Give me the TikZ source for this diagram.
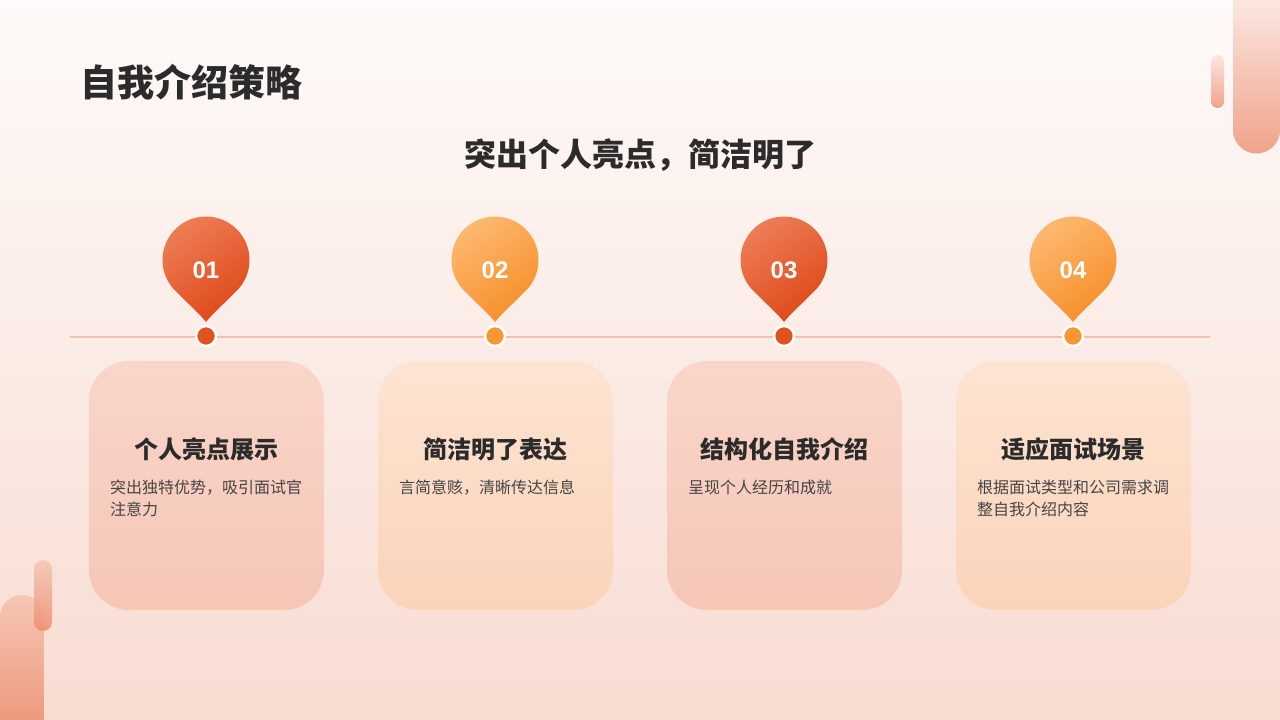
\documentclass[tikz,border=0pt]{standalone}
\usepackage{fontspec}
\setmainfont{Noto Sans CJK SC}
\newfontfamily\numfont{Liberation Sans}
\definecolor{bgtop}{HTML}{FEFAF9}
\definecolor{bgbot}{HTML}{F8DCD2}
\definecolor{txtdark}{HTML}{2B2B2B}
\definecolor{txtbody}{HTML}{444444}
\definecolor{redA}{HTML}{EE7E58}
\definecolor{redB}{HTML}{DE4816}
\definecolor{orA}{HTML}{FDBA72}
\definecolor{orB}{HTML}{F78D28}
\definecolor{redDot}{HTML}{E0531F}
\definecolor{orDot}{HTML}{F7962F}
\definecolor{cardRa}{HTML}{F9D6CA}
\definecolor{cardRb}{HTML}{F6C6B6}
\definecolor{cardOa}{HTML}{FDE4D2}
\definecolor{cardOb}{HTML}{FBD3BA}
\definecolor{lineC}{HTML}{F6C0A8}
\definecolor{decoA}{HTML}{FBE7E0}
\definecolor{decoB}{HTML}{F0A289}
\definecolor{decoC}{HTML}{F6C6B5}
\definecolor{decoD}{HTML}{EE9A7E}
\definecolor{decoE}{HTML}{EC8C6E}
\tikzset{
  cardbox/.style={rounded corners=40pt, draw=none},
  cardtitle/.style={font=\fontsize{24}{28}\selectfont\bfseries, text=txtdark, anchor=center},
  cardtext/.style={font=\fontsize{16}{22}\selectfont, text=txtbody, anchor=north west, align=left, inner sep=0pt},
  pinnum/.style={font=\numfont\fontsize{24}{26}\selectfont\bfseries, text=white},
  dotred/.style={circle, fill=redDot, draw=white, line width=2.5pt, minimum size=20pt, inner sep=0pt},
  dotor/.style={circle, fill=orDot, draw=white, line width=2.5pt, minimum size=20pt, inner sep=0pt},
}
\newcommand{\mypin}[3]{% x, colA, colB
  \shade[top color=#2, bottom color=#3, shading angle=35]
    (#1,322) .. controls ([xshift=4pt]#1,316) and ([xshift=25.3pt]#1,296.8) ..
    ([shift={(#1,260)}]40:43.5) arc[start angle=40, end angle=-220, radius=43.5]
    .. controls ([xshift=-25.3pt]#1,296.8) and ([xshift=-4pt]#1,316) .. (#1,322) -- cycle;
}
\begin{document}
\begin{tikzpicture}[x=1pt,y=-1pt]
\useasboundingbox (0,0) rectangle (1280,720);
\shade[top color=bgtop, bottom color=bgbot] (0,0) rectangle (1280,720);

% decorations top right
\shade[top color=decoA, bottom color=decoB]
  (1233,0) -- (1233,130) arc[start angle=180, end angle=0, radius=23.5] -- (1280,0) -- cycle;
\shade[top color=decoA, bottom color=decoB, rounded corners=6.5pt]
  (1211,55) rectangle (1224,108);
% decorations bottom left
\shade[top color=decoC, bottom color=decoD]
  (0,720) -- (0,617) arc[start angle=180, end angle=360, radius=22] -- (44,720) -- cycle;
\shade[top color=decoC, bottom color=decoE, rounded corners=9pt, opacity=0.85]
  (34,560) rectangle (52,631);

% titles
\node[font=\fontsize{37}{42}\selectfont\bfseries, text=txtdark, anchor=west, inner sep=0pt] (title) at (80,82) {自我介绍策略};
\node[font=\fontsize{32}{36}\selectfont\bfseries, text=txtdark, inner sep=0pt] (subtitle) at (640,155) {突出个人亮点，简洁明了};

% timeline
\coordinate (lineL) at (70,337);
\coordinate (lineR) at (1210,337);
\draw[lineC, line width=1.2pt] (lineL) -- (lineR);

% pins
\mypin{206}{redA}{redB}
\mypin{495}{orA}{orB}
\mypin{784}{redA}{redB}
\mypin{1073}{orA}{orB}
\node[pinnum] (n1) at (206,270) {01};
\node[pinnum] (n2) at (495,270) {02};
\node[pinnum] (n3) at (784,270) {03};
\node[pinnum] (n4) at (1073,270) {04};
\node[dotred] (d1) at (206,336) {};
\node[dotor] (d2) at (495,336) {};
\node[dotred] (d3) at (784,336) {};
\node[dotor] (d4) at (1073,336) {};

% cards
\shade[cardbox, top color=cardRa, bottom color=cardRb] (89,361) rectangle (324,610);
\shade[cardbox, top color=cardOa, bottom color=cardOb] (378,361) rectangle (613,610);
\shade[cardbox, top color=cardRa, bottom color=cardRb] (667,361) rectangle (902,610);
\shade[cardbox, top color=cardOa, bottom color=cardOb] (956,361) rectangle (1191,610);

\node[cardtitle] (t1) at (206,449) {个人亮点展示};
\node[cardtitle] (t2) at (495,449) {简洁明了表达};
\node[cardtitle] (t3) at (784,449) {结构化自我介绍};
\node[cardtitle] (t4) at (1073,449) {适应面试场景};

\node[cardtext] (b1) at (110,480) {突出独特优势，吸引面试官\\注意力};
\node[cardtext] (b2) at (399,480) {言简意赅，清晰传达信息};
\node[cardtext] (b3) at (688,480) {呈现个人经历和成就};
\node[cardtext] (b4) at (977,480) {根据面试类型和公司需求调\\整自我介绍内容};
\end{tikzpicture}
\end{document}
